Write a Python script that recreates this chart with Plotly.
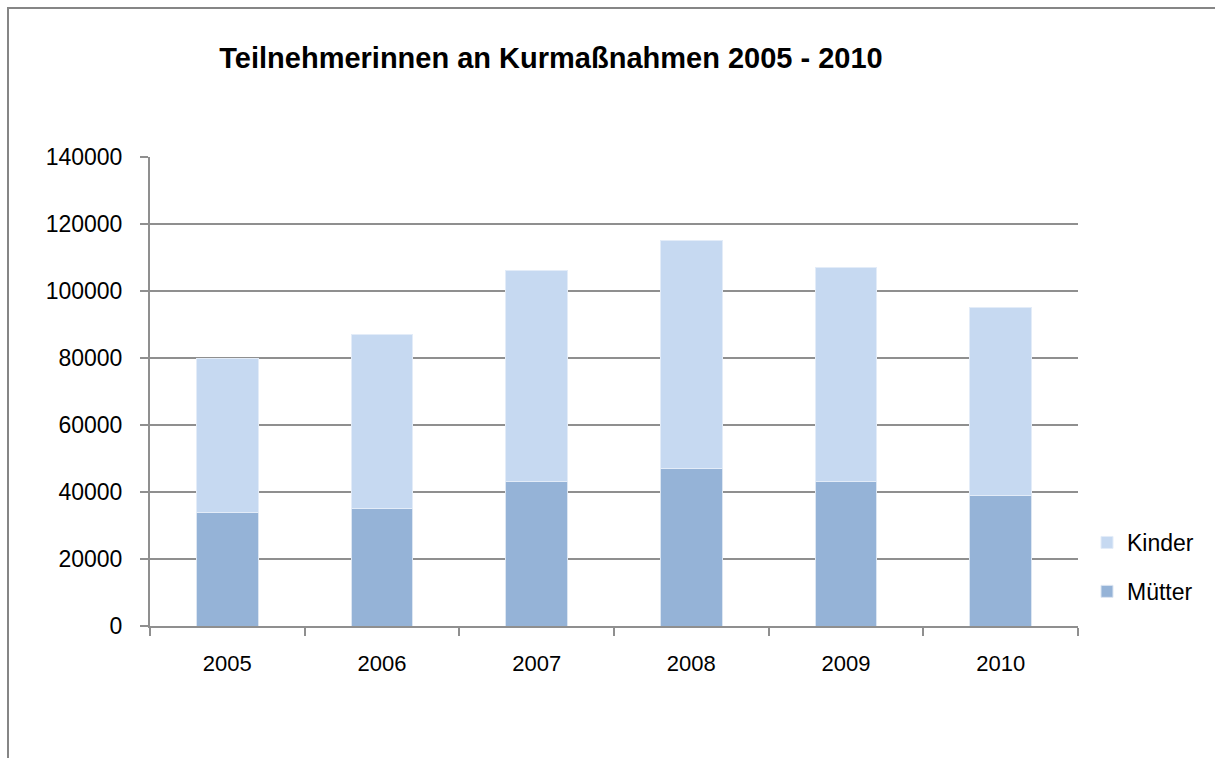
import plotly.graph_objects as go

years = ["2005", "2006", "2007", "2008", "2009", "2010"]
muetter = [34000, 35000, 43000, 47000, 43000, 39000]
kinder = [46000, 52000, 63000, 68000, 64000, 56000]
y_ticks = [0, 20000, 40000, 60000, 80000, 100000, 120000, 140000]

W, H = 1215, 758
L, R, T, B = 150, 1078, 157, 626
pw, ph = R - L, B - T

def px(xp):
    return (xp - L) / pw

def py(yp):
    return (B - yp) / ph

GRID = "#8F8F8F"

fig = go.Figure()
fig.add_trace(go.Bar(x=years, y=muetter, name="Mütter",
                     marker=dict(color="#95B3D7", line=dict(color="#DCE6F2", width=1)),
                     legendgroup="m", legendrank=2))
fig.add_trace(go.Bar(x=years, y=kinder, name="Kinder",
                     marker=dict(color="#C6D9F1", line=dict(color="#E3ECF8", width=1)),
                     legendgroup="k", legendrank=1))

fig.update_layout(
    width=W, height=H,
    margin=dict(l=L, r=W - R, t=T, b=H - B, pad=0),
    paper_bgcolor="white", plot_bgcolor="white",
    barmode="stack", bargap=0.6,
    showlegend=True,
    legend=dict(x=px(1087), y=py(521), xanchor="left", yanchor="top",
                traceorder="grouped", tracegroupgap=16,
                font=dict(family="Liberation Sans", size=23, color="black"),
                itemwidth=30),
    title=dict(text="<b>Teilnehmerinnen an Kurmaßnahmen 2005 - 2010</b>",
               x=551 / W, xanchor="center", y=1 - 58 / H, yanchor="middle",
               font=dict(family="Liberation Sans", size=29, color="black")),
    font=dict(family="Liberation Sans", color="black"),
)
fig.update_yaxes(range=[0, 140000], tickvals=y_ticks, tickformat="d",
                 showgrid=True, gridcolor=GRID, gridwidth=2,
                 showline=True, linecolor=GRID, linewidth=2, ticks="outside", ticklen=8,
                 tickwidth=2, tickcolor=GRID,
                 tickfont=dict(size=23, family="Liberation Sans", color="black"),
                 zeroline=False, ticklabelstandoff=13, fixedrange=True)
fig.update_xaxes(showline=True, linecolor=GRID, linewidth=2, ticks="outside", ticklen=8,
                 tickson="boundaries", tickcolor=GRID, tickwidth=2,
                 tickfont=dict(size=22, family="Liberation Sans", color="black"),
                 ticklabelstandoff=17, fixedrange=True)

fig.add_shape(type="rect", xref="paper", yref="paper",
              x0=px(8), x1=px(1240), y0=py(790), y1=py(8),
              line=dict(color="#868686", width=2), fillcolor="rgba(0,0,0,0)", layer="below")

fig.write_html("out.html", config={"displayModeBar": False},
               post_script="document.body.style.margin='0';document.body.style.overflow='hidden';")
